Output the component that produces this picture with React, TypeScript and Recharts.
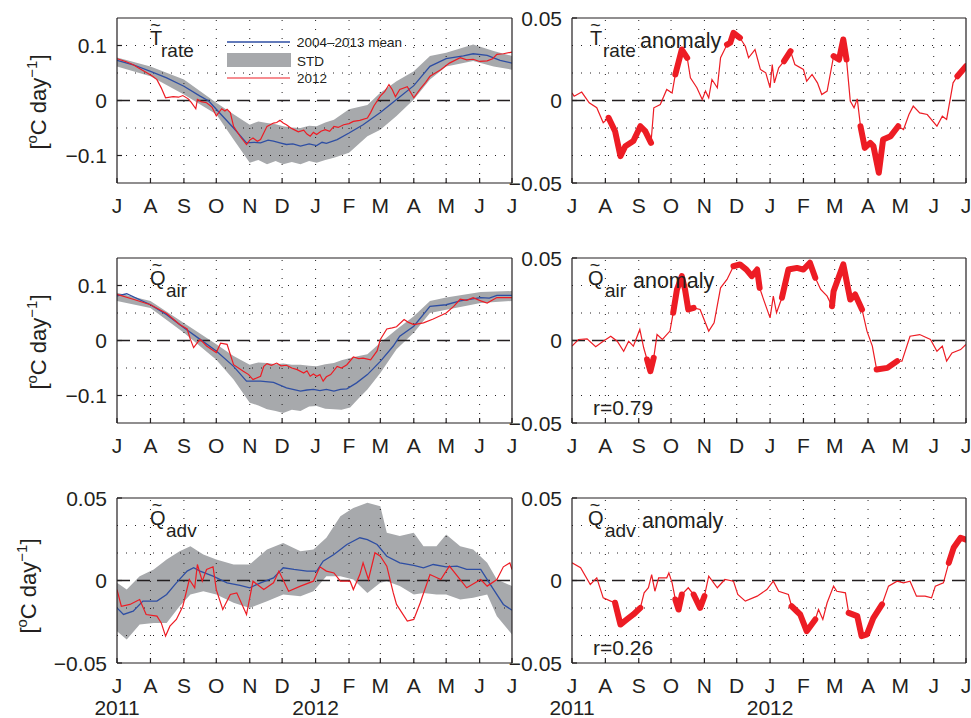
import { ComposedChart, Line, Area, XAxis, YAxis, ReferenceLine } from 'recharts';

// x = days since 1 Jul 2011
const MONTH_DAYS = [0, 31, 62, 92, 123, 153, 184, 215, 244, 275, 305, 336, 366];
const MONTH_LETTERS = ['J', 'A', 'S', 'O', 'N', 'D', 'J', 'F', 'M', 'A', 'M', 'J', 'J'];
const YEAR_LABELS: Record<number, string> = { 0: '2011', 184: '2012' };

const TICKS_WIDE = [-0.1, 0, 0.1];
const TICKS_NARROW = [-0.05, 0, 0.05];
const GRID_WIDE = [-0.1, -0.05, 0.05, 0.1];
const GRID_NARROW = [-0.05 * 2 / 3, -0.05 / 3, 0.05 / 3, 0.05 * 2 / 3];

// ---- T rate ----
const trateMean = [
  [0, 0.073], [15, 0.065], [31, 0.053], [46, 0.041], [62, 0.026], [77, 0.008], [85, -0.001], [92, -0.016],
  [108, -0.05], [120, -0.077], [127, -0.076], [133, -0.077], [140, -0.072], [145, -0.074], [151, -0.077],
  [157, -0.08], [163, -0.079], [170, -0.083], [178, -0.079], [185, -0.082], [190, -0.076], [194, -0.078],
  [204, -0.071], [215, -0.059], [228, -0.044], [244, -0.022], [259, 0.002], [275, 0.027], [290, 0.062],
  [305, 0.076], [321, 0.081], [330, 0.085], [343, 0.082], [355, 0.073], [366, 0.068],
];
const trateBand = [
  [0, 0.062, 0.078], [31, 0.044, 0.062], [62, 0.011, 0.038], [92, -0.025, -0.004], [108, -0.071, -0.025],
  [123, -0.113, -0.044], [131, -0.108, -0.038], [139, -0.116, -0.041], [147, -0.11, -0.043], [154, -0.116, -0.047],
  [162, -0.112, -0.049], [170, -0.116, -0.05], [178, -0.11, -0.046], [185, -0.113, -0.047], [193, -0.108, -0.04],
  [201, -0.104, -0.035], [215, -0.095, -0.016], [232, -0.065, -0.008], [244, -0.053, 0.014], [259, -0.028, 0.035],
  [275, 0.002, 0.053], [290, 0.038, 0.081], [305, 0.062, 0.087], [330, 0.072, 0.102], [349, 0.062, 0.09],
  [366, 0.056, 0.081],
];
const trate2012 = [
  [0, 0.076], [8, 0.071], [15, 0.065], [22, 0.057], [28, 0.05], [33, 0.044], [37, 0.038], [41, 0.023], [45, 0.005],
  [52, 0.007], [57, 0.006], [61, 0.009], [66, 0.003], [69, -0.004], [73, -0.015], [74.5, 0.002], [78, -0.002],
  [83, -0.004], [88, -0.012], [92, -0.028], [97, -0.015], [100, -0.019], [102, -0.016], [105, -0.022], [108, -0.047],
  [114, -0.065], [120, -0.08], [123, -0.072], [126, -0.068], [130, -0.074], [133, -0.071], [139, -0.047],
  [142, -0.044], [145, -0.041], [148, -0.04], [151, -0.036], [154, -0.041], [157, -0.044], [161, -0.05],
  [164, -0.053], [168, -0.057], [173, -0.054], [176, -0.061], [179, -0.065], [182, -0.058], [185, -0.062],
  [189, -0.056], [193, -0.053], [197, -0.056], [201, -0.047], [205, -0.049], [210, -0.044], [215, -0.042],
  [219, -0.038], [225, -0.036], [232, -0.032], [235, -0.022], [238, -0.01], [244, 0.008], [248, 0.016],
  [252, 0.029], [255, 0.02], [258, 0.007], [262, 0.02], [269, 0.025], [272, 0.015], [275, 0.005], [281, 0.021],
  [286, 0.033], [290, 0.044], [295, 0.05], [300, 0.056], [308, 0.068], [318, 0.078], [324, 0.074], [330, 0.075],
  [336, 0.071], [343, 0.072], [348, 0.076], [352, 0.084], [358, 0.085], [366, 0.088],
];

// ---- Q air ----
const qairMean = [
  [0, 0.081], [9, 0.085], [31, 0.065], [46, 0.047], [62, 0.023], [77, 0.002], [92, -0.019], [108, -0.047],
  [120, -0.074], [133, -0.074], [145, -0.076], [157, -0.086], [170, -0.092], [176, -0.09], [182, -0.089],
  [188, -0.091], [194, -0.089], [201, -0.092], [207, -0.089], [213, -0.088], [222, -0.077], [232, -0.062],
  [244, -0.038], [256, -0.01], [262, 0.008], [275, 0.026], [290, 0.062], [305, 0.065], [318, 0.072],
  [337, 0.078], [345, 0.077], [352, 0.082], [366, 0.082],
];
const qairBand = [
  [0, 0.072, 0.087], [31, 0.059, 0.072], [62, 0.014, 0.032], [92, -0.035, -0.007], [108, -0.071, -0.028],
  [123, -0.113, -0.044], [131, -0.118, -0.04], [139, -0.125, -0.041], [147, -0.128, -0.043], [154, -0.132, -0.042],
  [162, -0.126, -0.044], [170, -0.128, -0.044], [178, -0.12, -0.046], [185, -0.119, -0.047], [193, -0.124, -0.043],
  [201, -0.125, -0.041], [208, -0.126, -0.036], [216, -0.122, -0.032], [224, -0.105, -0.028], [232, -0.089, -0.025],
  [244, -0.059, -0.004], [259, -0.016, 0.02], [275, 0.014, 0.044], [290, 0.05, 0.072], [305, 0.056, 0.078],
  [337, 0.068, 0.088], [366, 0.072, 0.09],
];
const qair2012 = [
  [0, 0.084], [15, 0.075], [31, 0.065], [46, 0.049], [58, 0.029], [65, 0.021], [68, 0.002], [71, -0.013],
  [74.5, -0.004], [77, 0.002], [83, -0.01], [92, -0.022], [96, -0.005], [102, -0.007], [108, -0.044],
  [117, -0.056], [122, -0.062], [126, -0.071], [133, -0.065], [136, -0.047], [139, -0.042], [143, -0.045],
  [148, -0.041], [152, -0.046], [157, -0.045], [162, -0.05], [167, -0.053], [173, -0.059], [176, -0.055],
  [179, -0.065], [182, -0.061], [185, -0.065], [188, -0.062], [191, -0.074], [194, -0.066], [198, -0.062],
  [204, -0.047], [208, -0.05], [213, -0.044], [219, -0.03], [224, -0.033], [228, -0.032], [235, -0.035],
  [241, -0.019], [244, 0.002], [250, 0.021], [255, 0.023], [259, 0.025], [266, 0.038], [270, 0.033],
  [275, 0.029], [284, 0.032], [293, 0.039], [305, 0.05], [312, 0.062], [318, 0.075], [324, 0.073],
  [330, 0.078], [337, 0.072], [343, 0.068], [352, 0.078], [366, 0.078],
];

// ---- Q adv ----
const qadvMean = [
  [0, -0.0166], [6, -0.0206], [15, -0.0186], [24, -0.0125], [37, -0.0125], [46, -0.0085], [55, -0.0014],
  [65, 0.0057], [71, 0.0077], [77, 0.0057], [89, 0.0026], [102, -0.0014], [114, -0.003], [123, -0.0044],
  [133, -0.0014], [145, 0.0016], [154, 0.0077], [164, 0.0067], [176, 0.0057], [185, 0.0057], [191, 0.0117],
  [201, 0.0158], [213, 0.0218], [225, 0.0259], [232, 0.0248], [241, 0.0218], [250, 0.0147], [262, 0.0107],
  [275, 0.0091], [284, 0.0077], [293, 0.0097], [305, 0.0083], [315, 0.0087], [324, 0.0067], [337, 0.0067],
  [349, -0.0055], [358, -0.0145], [366, -0.018],
];
const qadvBand = [
  [0, -0.0307, -0.0014], [9, -0.0358, -0.0055], [21, -0.0267, 0.0026], [34, -0.0257, 0.0067],
  [46, -0.0257, 0.0127], [58, -0.0156, 0.0178], [68, -0.0085, 0.0208], [80, -0.0065, 0.0158],
  [92, -0.0085, 0.0127], [108, -0.0135, 0.0097], [123, -0.0166, 0.0097], [139, -0.0125, 0.0188],
  [154, -0.0085, 0.0228], [170, -0.0095, 0.0178], [182, -0.0065, 0.0188], [194, 0.0026, 0.0259],
  [207, 0.0026, 0.039], [219, 0.0006, 0.044], [232, -0.0075, 0.0471], [244, -0.0014, 0.045],
  [250, -0.0004, 0.0289], [262, -0.0034, 0.0269], [275, -0.0085, 0.0289], [284, -0.0075, 0.0208],
  [296, -0.0085, 0.0208], [305, -0.0085, 0.0279], [318, -0.0115, 0.0208], [330, -0.0105, 0.0188],
  [343, -0.0085, 0.0107], [352, -0.0216, 0.0006], [366, -0.0327, -0.0034],
];
const qadv2012 = [
  [0, -0.0055], [4, -0.0156], [12, -0.0145], [21, -0.0115], [27, -0.0206], [37, -0.0216], [41, -0.0257],
  [45, -0.0337], [49, -0.0277], [55, -0.0236], [61, -0.0156], [67, 0.0006], [72, -0.0044], [74.5, 0.0097],
  [79, -0.0004], [83, 0.0067], [89, 0.0083], [92, -0.0055], [98, -0.0176], [105, -0.0085], [111, -0.0075],
  [120, -0.0206], [126, -0.0004], [136, -0.0055], [145, -0.0014], [150, 0.0057], [159, -0.0065],
  [170, -0.0034], [182, -0.0004], [188, 0.0083], [194, 0.0057], [201, 0.0046], [207, -0.0004],
  [216, -0.0004], [219, -0.0055], [225, 0.0036], [228, 0.0107], [233, 0.0006], [239, 0.0168], [244, 0.0147],
  [250, 0.0087], [256, -0.0075], [259, -0.0145], [269, -0.0246], [275, -0.0236], [281, -0.0135],
  [290, 0.0036], [300, 0.0006], [308, 0.0087], [318, 0.0006], [324, -0.0044], [337, 0.0006],
  [343, -0.0034], [352, 0.0006], [358, 0.0083], [364, 0.0107], [366, 0.0067],
];

// ---- anomalies (2012 minus mean) ----
const trateAnom = [
  [0, 0.0046], [2, 0.0026], [9, 0.0051], [16, -0.0014], [23, -0.0044], [29, -0.0135], [34, -0.0105],
  [40, -0.0186], [45, -0.0337], [49.5, -0.0277], [57, -0.0246], [63.5, -0.0156], [68, -0.0186],
  [73.4, -0.0257], [76, -0.0044], [82, -0.0024], [88, 0.0067], [93, 0.0046], [96, 0.0158], [102, 0.0309],
  [107, 0.0259], [110, 0.0137], [116, 0.0077], [121, 0.0006], [124, 0.0057], [127, 0.0016], [130, 0.0127],
  [135, 0.0077], [138, 0.0259], [144, 0.0339], [147, 0.035], [150, 0.041], [156, 0.038], [161, 0.0329],
  [164, 0.0259], [170, 0.0309], [175, 0.0188], [180, 0.0168], [184, 0.0077], [186, 0.0218], [188, 0.0107],
  [192, 0.0198], [197, 0.0238], [203, 0.0299], [207, 0.0218], [215, 0.0188], [218, 0.0117], [223, 0.0158],
  [228, 0.0107], [232, 0.0036], [237, 0.0057], [243, 0.0269], [248, 0.0248], [252, 0.037], [255, 0.0248],
  [258.5, -0.0004], [262, -0.0044], [265, 0.001], [268, -0.0156], [272, -0.0287], [277, -0.0257],
  [280, -0.0277], [285, -0.0438], [289, -0.0236], [296, -0.0216], [303, -0.0156], [308, -0.0176],
  [313, -0.0085], [317, -0.0034], [323, -0.0075], [330, -0.0085], [339, -0.0156], [344, -0.0095],
  [348, -0.0115], [354, 0.0107], [358, 0.0147], [366, 0.0208],
];
const trateThick = [[34, 73.4], [96, 107], [144, 156], [197, 203], [243, 255], [268, 303], [358, 366]];

const qairAnom = [
  [0, -0.0034], [6, 0.0006], [14, 0.001], [22, -0.0038], [29, -0.0004], [36, 0.0026], [42, -0.0004],
  [48, -0.0065], [52.6, -0.0004], [57, -0.0034], [63, 0.0067], [66.6, -0.0044], [69.7, -0.0115],
  [72.8, -0.0186], [75.9, -0.0105], [79, 0.0036], [84, 0.0006], [91, 0.0057], [94, 0.0168], [97.5, 0.0309],
  [102, 0.039], [105, 0.0309], [108, 0.0188], [113, 0.0198], [119, 0.0188], [127, 0.0057], [132, 0.0107],
  [138, 0.0319], [144, 0.037], [150, 0.045], [156, 0.0461], [162, 0.043], [167, 0.039], [172, 0.043],
  [174.3, 0.0319], [178, 0.0248], [184, 0.0137], [187, 0.0269], [190, 0.0168], [195, 0.0259], [201, 0.043],
  [209, 0.044], [215, 0.043], [221, 0.0471], [226, 0.038], [231, 0.0309], [237, 0.0269], [241.5, 0.0208],
  [243, 0.0299], [252, 0.0461], [258.5, 0.0248], [263, 0.0279], [269.4, 0.0188], [274, 0.0057],
  [279, -0.0034], [283, -0.0176], [293, -0.0166], [302, -0.0125], [306.5, -0.0125], [314, 0.0026],
  [323, 0.0036], [333, 0.0006], [339, -0.0065], [344, -0.0034], [348, -0.0125], [353, -0.0075],
  [361, -0.0055], [366, -0.0024],
];
const qairThick = [[69.7, 75.9], [94, 113], [150, 174.3], [195, 226], [241.5, 269.4], [283, 302]];

const qadvAnom = [
  [0, 0.0107], [8, 0.0077], [17, -0.0024], [23, 0.0016], [29, -0.0105], [36, -0.0125], [40, -0.0135],
  [45, -0.0267], [51, -0.0236], [57, -0.0206], [63.5, -0.0166], [67, -0.0075], [71, -0.0044], [74, 0.0036],
  [77, -0.0065], [80.5, 0.0016], [88, 0.0016], [90, 0.0046], [93, -0.0014], [96, -0.0115], [99, -0.0176],
  [102, -0.0085], [108, -0.0044], [113, -0.0085], [119, -0.0166], [123, -0.0095], [127, 0.0026],
  [135, -0.0044], [142, 0.0006], [150, -0.0004], [154, -0.0085], [161, -0.0125], [172, -0.0095],
  [181, -0.0055], [187, -0.0004], [192, -0.0065], [201, -0.0085], [204, -0.0156], [212, -0.0206],
  [218, -0.0307], [226, -0.0236], [229, -0.0176], [233, -0.0236], [237, -0.0135], [243, -0.0034],
  [246, -0.0065], [254, -0.0075], [257, -0.0196], [265, -0.0216], [269, -0.0337], [274, -0.0327],
  [280, -0.0226], [288, -0.0145], [294, -0.0034], [302, -0.0004], [308, -0.0014], [314, -0.0004],
  [320, -0.0095], [328, -0.0095], [334, -0.0105], [337.5, -0.0034], [345, -0.0014], [350, 0.0107],
  [354.5, 0.0198], [361, 0.0259], [366, 0.0248],
];
const qadvThick = [[40, 63.5], [96, 102], [113, 123], [204, 226], [257, 288], [350, 366]];

const BLUE = '#2e4ea3';
const RED = '#ed1c24';
const GRAY = '#a7a9ac';
const INK = '#231f20';
const FONT = '"Liberation Sans", Arial, Helvetica, sans-serif';

const fmt = (v: number) => (v < 0 ? '\u2212' + String(Math.abs(v)) : String(v));
const toPts = (arr: number[][]) => arr.map(([d, v]) => ({ d, v }));
const toBand = (arr: number[][]) => arr.map(([d, lo, hi]) => ({ d, r: [lo, hi] }));

function MonthTick(props: any) {
  const { x, y, payload, showYear } = props;
  const i = MONTH_DAYS.indexOf(payload.value);
  const year = showYear ? YEAR_LABELS[payload.value] : undefined;
  return (
    <g>
      <text x={x} y={y + 30} textAnchor="middle" fontSize={21} fill={INK} fontFamily={FONT}>
        {MONTH_LETTERS[i]}
      </text>
      {year && (
        <text x={x} y={y + 52} textAnchor="middle" fontSize={21} fill={INK} fontFamily={FONT}>
          {year}
        </text>
      )}
    </g>
  );
}

function ValueTick(props: any) {
  const { x, y, payload } = props;
  return (
    <text x={x} y={y + 7.5} textAnchor="end" fontSize={21} fill={INK} fontFamily={FONT}>
      {fmt(payload.value)}
    </text>
  );
}

interface PanelProps {
  left: number;
  top: number;
  width: number;
  height: number;
  yAxisWidth: number;
  marginRight: number;
  bottomHeight: number;
  domain: [number, number];
  ticks: number[];
  grid: number[];
  band?: number[][];
  mean?: number[][];
  series: number[][];
  thick?: number[][];
  showYear?: boolean;
}

function Panel(p: PanelProps) {
  const seriesPts = toPts(p.series);
  return (
    <div style={{ position: 'absolute', left: p.left, top: p.top }}>
      <ComposedChart
        width={p.width}
        height={p.height}
        margin={{ top: 17, right: p.marginRight, bottom: 0, left: 0 }}
      >
        <XAxis
          type="number"
          dataKey="d"
          domain={[0, 366]}
          ticks={MONTH_DAYS}
          interval={0}
          allowDataOverflow
          height={p.bottomHeight}
          tickSize={-5}
          tickMargin={5}
          stroke={INK}
          strokeWidth={1.2}
          tick={<MonthTick showYear={p.showYear} />}
        />
        <XAxis
          xAxisId="t"
          orientation="top"
          type="number"
          dataKey="d"
          domain={[0, 366]}
          ticks={MONTH_DAYS}
          interval={0}
          height={1}
          tickSize={-5}
          tick={false}
          stroke={INK}
          strokeWidth={1.2}
        />
        <YAxis
          type="number"
          domain={p.domain}
          ticks={p.ticks}
          interval={0}
          allowDataOverflow
          width={p.yAxisWidth}
          tickSize={-5}
          tickMargin={15}
          stroke={INK}
          strokeWidth={1.2}
          tick={<ValueTick />}
        />
        <YAxis
          yAxisId="r"
          orientation="right"
          type="number"
          domain={p.domain}
          ticks={p.ticks}
          interval={0}
          allowDataOverflow
          width={1}
          tickSize={-5}
          tick={false}
          stroke={INK}
          strokeWidth={1.2}
        />
        {MONTH_DAYS.slice(1, -1).map((d) => (
          <ReferenceLine key={'gx' + d} x={d} stroke={INK} strokeWidth={1} strokeDasharray="1 8" />
        ))}
        {p.grid.map((v) => (
          <ReferenceLine key={'gy' + v} y={v} stroke={INK} strokeWidth={1} strokeDasharray="1 8" />
        ))}
        {p.band && (
          <Area
            data={toBand(p.band)}
            dataKey="r"
            type="linear"
            stroke="none"
            fill={GRAY}
            fillOpacity={1}
            isAnimationActive={false}
          />
        )}
        <ReferenceLine y={0} stroke={INK} strokeWidth={1.3} strokeDasharray="13 7" />
        {p.mean && (
          <Line
            data={toPts(p.mean)}
            dataKey="v"
            type="linear"
            stroke={BLUE}
            strokeWidth={1.3}
            dot={false}
            isAnimationActive={false}
          />
        )}
        <Line
          data={seriesPts}
          dataKey="v"
          type="linear"
          stroke={RED}
          strokeWidth={1.2}
          dot={false}
          isAnimationActive={false}
        />
        {(p.thick || []).map(([a, b]) => (
          <Line
            key={'th' + a}
            data={seriesPts.filter((pt) => pt.d >= a && pt.d <= b)}
            dataKey="v"
            type="linear"
            stroke={RED}
            strokeWidth={6}
            strokeLinejoin="round"
            strokeLinecap="round"
            dot={false}
            isAnimationActive={false}
          />
        ))}
      </ComposedChart>
    </div>
  );
}

function UnitLabel({ x, y }: { x: number; y: number }) {
  return (
    <text transform={`translate(${x},${y}) rotate(-90)`} textAnchor="middle" fontSize={22} fill={INK} fontFamily={FONT}>
      [<tspan fontSize={15} dy={-9}>o</tspan><tspan dy={9}>C day</tspan><tspan fontSize={15} dy={-9}>{'\u22121'}</tspan><tspan dy={9}>]</tspan>
    </text>
  );
}

interface TitleProps {
  x: number;
  top: number;
  main: string;
  tildeDx: number;
  sub: string;
  subX: number;
  anomalyX?: number;
}

function Title({ x, top, main, tildeDx, sub, subX, anomalyX }: TitleProps) {
  return (
    <g fill={INK} fontFamily={FONT}>
      <text x={x + tildeDx} y={top + 12.5} textAnchor="middle" fontSize={18}>~</text>
      <text x={x} y={top + 27} fontSize={20}>{main}</text>
      <text x={subX} y={top + 38.5} fontSize={19}>{sub}</text>
      {anomalyX !== undefined && (
        <text x={anomalyX} y={top + 30} fontSize={21.5}>anomaly</text>
      )}
    </g>
  );
}

const ROW_TOPS = [18, 258, 498];

export default function App() {
  const L = { left: 0, width: 520, yAxisWidth: 117, marginRight: 7 };
  const R = { left: 500, width: 471, yAxisWidth: 72, marginRight: 4 };
  return (
    <div style={{ position: 'absolute', left: 0, top: 0, width: 971, height: 718, background: '#fff', overflow: 'hidden' }}>
      <Panel {...L} top={0} height={223} bottomHeight={40} domain={[-0.15, 0.15]} ticks={TICKS_WIDE} grid={GRID_WIDE}
        band={trateBand} mean={trateMean} series={trate2012} />
      <Panel {...R} top={0} height={223} bottomHeight={40} domain={[-0.05, 0.05]} ticks={TICKS_NARROW} grid={GRID_NARROW}
        series={trateAnom} thick={trateThick} />
      <Panel {...L} top={240} height={223} bottomHeight={40} domain={[-0.15, 0.15]} ticks={TICKS_WIDE} grid={GRID_WIDE}
        band={qairBand} mean={qairMean} series={qair2012} />
      <Panel {...R} top={240} height={223} bottomHeight={40} domain={[-0.05, 0.05]} ticks={TICKS_NARROW} grid={GRID_NARROW}
        series={qairAnom} thick={qairThick} />
      <Panel {...L} top={480} height={238} bottomHeight={55} domain={[-0.05, 0.05]} ticks={TICKS_NARROW} grid={GRID_NARROW}
        band={qadvBand} mean={qadvMean} series={qadv2012} showYear />
      <Panel {...R} top={480} height={238} bottomHeight={55} domain={[-0.05, 0.05]} ticks={TICKS_NARROW} grid={GRID_NARROW}
        series={qadvAnom} thick={qadvThick} showYear />

      <svg width={971} height={718} style={{ position: 'absolute', left: 0, top: 0, pointerEvents: 'none' }}>
        <UnitLabel x={46} y={ROW_TOPS[0] + 84} />
        <UnitLabel x={46} y={ROW_TOPS[1] + 84} />
        <UnitLabel x={36} y={ROW_TOPS[2] + 88} />

        <Title x={150} top={ROW_TOPS[0]} main="T" tildeDx={5.5} sub="rate" subX={161} />
        <Title x={590} top={ROW_TOPS[0]} main="T" tildeDx={5.5} sub="rate" subX={603} anomalyX={640} />
        <Title x={150} top={ROW_TOPS[1]} main="Q" tildeDx={7} sub="air" subX={166} />
        <Title x={588} top={ROW_TOPS[1]} main="Q" tildeDx={7} sub="air" subX={605} anomalyX={633} />
        <Title x={150} top={ROW_TOPS[2]} main="Q" tildeDx={7} sub="adv" subX={166} />
        <Title x={588} top={ROW_TOPS[2]} main="Q" tildeDx={7} sub="adv" subX={605} anomalyX={642} />

        <g fontFamily={FONT} fontSize={21} fill={INK}>
          <text x={593} y={ROW_TOPS[1] + 157}>r=0.79</text>
          <text x={593} y={ROW_TOPS[2] + 157}>r=0.26</text>
        </g>

        {/* legend */}
        <g fontFamily={FONT} fontSize={13.5} fill={INK}>
          <line x1={227} x2={290} y1={42} y2={42} stroke={BLUE} strokeWidth={1.3} />
          <text x={297} y={47}>2004–2013 mean</text>
          <rect x={227} y={53} width={64} height={14} fill={GRAY} />
          <text x={297} y={66}>STD</text>
          <line x1={227} x2={290} y1={78} y2={78} stroke={RED} strokeWidth={1.2} />
          <text x={297} y={83}>2012</text>
        </g>
      </svg>
    </div>
  );
}
